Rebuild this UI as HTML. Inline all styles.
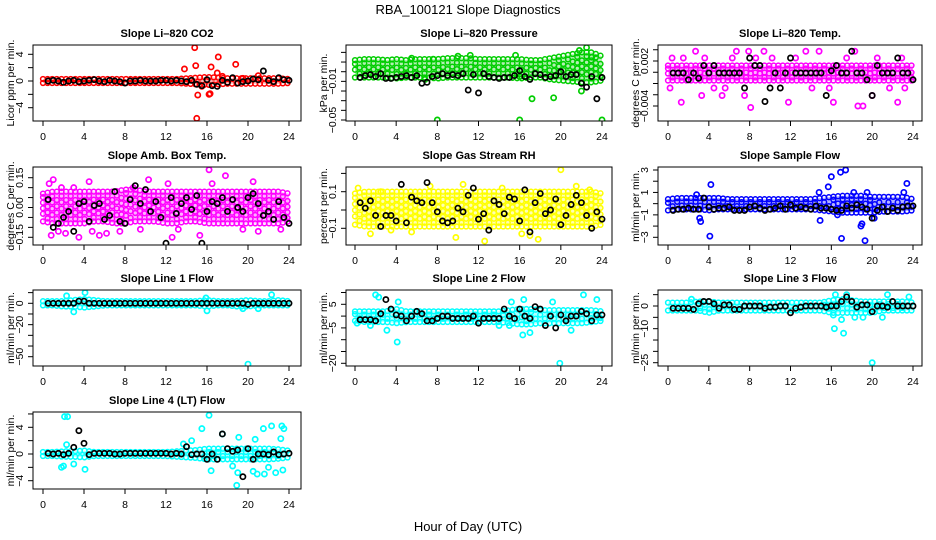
<!DOCTYPE html>
<html><head><meta charset="utf-8"><style>
html,body{margin:0;padding:0;background:#fff;}
svg{display:block;font-family:"Liberation Sans",sans-serif;}
</style></head><body>
<svg id="chart" width="936" height="540" viewBox="0 0 936 540" xmlns="http://www.w3.org/2000/svg">
<text x="468" y="14" text-anchor="middle" font-size="13">RBA_100121  Slope Diagnostics</text>
<text x="468" y="531" text-anchor="middle" font-size="13">Hour of Day (UTC)</text>
</svg>
<script>
// ---- shared data ----
const bandHours = [0,1,2,3,4,5,6,7,8,9,10,11,12,13,14,15,16,17,18,19,20,21,22,23,24];
const meanHours = [0.5,1,1.5,2,2.5,3,3.5,4,4.5,5,5.5,6,6.5,7,7.5,8,8.5,9,9.5,10,10.5,11,11.5,12,12.5,13,13.5,14,14.5,15,15.5,16,16.5,17,17.5,18,18.5,19,19.5,20,20.5,21,21.5,22,22.5,23,23.5,24];
const xTicks = [0,4,8,12,16,20,24];

// CO2
const co2Lo = [-0.3,-0.3,-0.3,-0.3,-0.3,-0.3,-0.3,-0.3,-0.3,-0.3,-0.3,-0.3,-0.3,-0.3,-0.4,-0.5,-0.6,-0.5,-0.4,-0.4,-0.4,-0.4,-0.4,-0.4,-0.3];
const co2Hi = [0.3,0.3,0.3,0.3,0.3,0.3,0.3,0.3,0.3,0.3,0.3,0.3,0.3,0.3,0.4,0.5,0.6,0.5,0.4,0.4,0.4,0.4,0.4,0.4,0.3];
const co2OutX = [13.8,14.8,14.9,15.0,15.1,16.2,16.4,16.3,17.0,17.1,17.5,18.8,21.0,15.5,19.5];
const co2OutY = [1.8,5.0,2.3,-5.6,-2.1,-2.0,2.1,-1.9,1.2,3.6,0.7,2.5,0.8,-0.8,0.4];
const co2Mean = [0,0.1,0,-0.2,0,0.1,-0.1,0,0.1,0.2,0,-0.1,0.1,0,-0.1,-0.3,0,0,0.1,0,0,0,0.1,0.1,0,0.1,0,-0.1,0.1,-0.5,-0.7,0.2,-0.7,-0.8,0.1,-0.2,0.5,-0.3,-0.1,0,0.3,0.2,1.5,0.1,-0.1,0.5,0.2,0.1];
// Pressure
const prLo = [-0.006,-0.006,-0.006,-0.006,-0.007,-0.006,-0.006,-0.006,-0.007,-0.006,-0.006,-0.006,-0.006,-0.006,-0.006,-0.006,-0.007,-0.006,-0.006,-0.008,-0.009,-0.01,-0.011,-0.011,-0.009];
const prHi = [0.012,0.013,0.013,0.012,0.013,0.012,0.013,0.013,0.013,0.014,0.014,0.014,0.013,0.013,0.013,0.013,0.013,0.012,0.012,0.014,0.016,0.018,0.02,0.02,0.016];
const prOutX = [8,16,24,17.2,19.3,6.8,22,22.5,21.8,23,16,5.5,10,11.2,7.6,15.6];
const prOutY = [-0.05,-0.05,-0.05,-0.028,-0.027,-0.008,-0.02,0.025,0.022,0.015,-0.005,0.014,0.016,0.017,0.013,0.017];
const prMean = [-0.006,-0.004,-0.003,-0.005,-0.002,-0.007,-0.007,-0.006,-0.005,-0.004,-0.006,-0.004,-0.012,-0.011,-0.005,-0.004,-0.002,-0.004,-0.003,-0.004,-0.002,-0.019,-0.003,-0.022,-0.002,-0.005,-0.006,-0.007,-0.006,-0.006,-0.004,0.001,-0.005,-0.008,-0.002,-0.003,-0.006,-0.005,-0.004,0.0,-0.005,-0.003,-0.003,-0.012,-0.016,-0.005,-0.028,-0.006];
// Li-820 Temp
const tpLo = [-0.0006,-0.0006,-0.0006,-0.0006,-0.0006,-0.0006,-0.0006,-0.0006,-0.0006,-0.0006,-0.0006,-0.0006,-0.0006,-0.0006,-0.0006,-0.0006,-0.0006,-0.0006,-0.0006,-0.0006,-0.0006,-0.0006,-0.0006,-0.0006,-0.0006];
const tpHi = [0.0014,0.0014,0.0014,0.0014,0.0014,0.0014,0.0014,0.0014,0.0014,0.0014,0.0014,0.0014,0.0014,0.0014,0.0014,0.0014,0.0014,0.0014,0.0014,0.0014,0.0014,0.0014,0.0014,0.0014,0.0014];
const tpOutX = [0.2,0.4,1.3,1.5,2.7,3.3,3.6,4.5,5.3,5.6,6.3,6.7,7.5,7.9,8.1,8.6,9.4,10.2,11.8,12.5,13.5,14.1,14.8,15.8,16.2,17.5,18.3,18.6,19.1,20,20.5,21.7,22.5,22.9,23.2];
const tpOutY = [-0.0016,0.0024,-0.0035,0.0024,0.0033,-0.0026,0.0024,-0.0016,-0.0026,-0.0016,0.0024,0.0033,-0.0026,0.0033,-0.0042,0.0024,0.0033,0.0024,-0.0035,0.0024,0.0033,-0.0016,0.0033,-0.0016,-0.0035,0.0024,0.0033,-0.0040,-0.0040,-0.0026,0.0024,-0.0016,-0.0035,0.0024,-0.0016];
const tpMean = [0.0004,0.0004,0.0004,-0.0005,0.0004,-0.0003,0.0014,0.0004,0.0014,0.0004,0.0004,0.0004,0.0004,0.0004,-0.0016,0.0024,0.0014,0.0014,-0.0034,-0.0016,0.0004,-0.0016,0.0004,0.0024,0.0004,0.0004,0.0004,0.0004,0.0004,0.0004,-0.0026,0.0007,0.0014,0.0004,0.0004,0.0033,0.0004,0.0004,-0.0005,-0.0026,0.0014,0.0004,0.0004,0.0004,0.0024,0.0004,0.0004,-0.0005];
// Amb box temp
const abLo = [-0.07,-0.08,-0.08,-0.08,-0.08,-0.07,-0.07,-0.08,-0.08,-0.07,-0.07,-0.07,-0.08,-0.08,-0.07,-0.07,-0.08,-0.08,-0.08,-0.08,-0.08,-0.08,-0.08,-0.08,-0.07];
const abHi = [0.07,0.08,0.08,0.08,0.08,0.08,0.08,0.08,0.09,0.09,0.08,0.08,0.08,0.08,0.08,0.08,0.08,0.08,0.08,0.08,0.08,0.08,0.08,0.08,0.07];
const abOutX = [0.6,1.0,0.8,1.5,2.2,3.5,3.0,4.5,4.8,5.5,6.2,7.5,8.8,10.3,12.2,12.6,13.2,15.3,16.2,16.5,17.8,19.5,20.5,21,23.2,1.8,9.5];
const abOutY = [0.12,0.14,-0.14,-0.12,-0.13,-0.15,0.1,0.13,-0.12,-0.14,-0.13,-0.12,0.1,0.14,0.12,-0.15,-0.11,-0.14,0.19,0.12,0.16,-0.11,0.13,-0.12,-0.11,0.1,-0.11];
const abMean = [0.04,-0.1,-0.08,-0.05,-0.02,-0.12,0.02,0.03,-0.07,0.01,0.02,-0.06,-0.04,0.08,-0.07,-0.08,0.04,0.11,0.02,0.09,-0.02,0.03,-0.05,-0.18,0.05,-0.03,0.02,0.05,-0.01,0.06,-0.18,-0.02,0.03,0.02,0.05,-0.02,0.04,0,-0.02,0.05,0.07,0.02,-0.04,-0.02,-0.06,0.03,-0.05,-0.08];
// Gas stream RH
const rhLo = [-0.08,-0.09,-0.09,-0.09,-0.09,-0.09,-0.09,-0.09,-0.09,-0.09,-0.09,-0.09,-0.09,-0.09,-0.09,-0.09,-0.09,-0.09,-0.09,-0.09,-0.09,-0.09,-0.09,-0.09,-0.08];
const rhHi = [0.09,0.1,0.1,0.1,0.1,0.1,0.1,0.1,0.1,0.1,0.1,0.1,0.1,0.1,0.1,0.1,0.1,0.1,0.1,0.1,0.1,0.1,0.1,0.1,0.09];
const rhOutX = [20,12.6,17.8,1.5,17,0.3,2.5,5.5,9.8,14.3,16.2,21.5,22.8,10.5,7.3,3.5];
const rhOutY = [0.22,-0.17,-0.16,-0.13,-0.14,0.12,0.1,-0.12,-0.15,0.12,-0.13,0.13,0.11,0.14,0.13,-0.11];
const rhMean = [0.04,0.01,0.05,-0.03,-0.09,-0.03,-0.03,-0.06,0.14,-0.07,0.07,0.05,0.04,0.15,0.04,-0.01,-0.06,-0.07,-0.06,0.01,-0.01,0.08,0.12,-0.05,-0.02,-0.11,0.05,0.03,-0.02,0.07,0.06,-0.06,0.11,-0.12,0.04,0.09,-0.02,0.0,0.06,-0.08,-0.03,0.03,0.08,0.04,-0.03,-0.1,-0.01,-0.05];
// Sample flow
const sfLo = [-0.6,-0.5,-0.5,-0.5,-0.6,-0.5,-0.5,-0.5,-0.5,-0.5,-0.5,-0.5,-0.5,-0.5,-0.5,-0.6,-0.7,-0.8,-0.8,-0.8,-0.8,-0.7,-0.7,-0.7,-0.6];
const sfHi = [0.4,0.5,0.5,0.5,0.5,0.5,0.4,0.4,0.4,0.4,0.4,0.4,0.4,0.4,0.4,0.5,0.6,0.7,0.7,0.7,0.6,0.6,0.6,0.6,0.4];
const sfOutX = [4.2,4.1,3.1,3.2,16,16.9,17.4,17,19.3,18.9,19,14.9,20.2,23.4,15.7,14.8,18.2,19.5,16.6,23.1,2.8];
const sfOutY = [1.7,-2.9,-1.3,-1.6,2.4,2.8,3.0,-3.1,-3.3,-2.0,-1.8,-1.5,-1.3,1.8,1.5,1.0,1.0,1.0,-1.0,1.0,0.8];
const sfMean = [-0.6,-0.5,-0.5,-0.4,-0.5,-0.5,0.5,-0.3,-0.5,-0.4,-0.4,-0.3,-0.6,-0.6,-0.6,-0.3,-0.2,-0.4,-0.6,-0.5,-0.4,-0.2,-0.5,-0.1,-0.4,-0.3,-0.4,-0.5,-0.2,-0.4,-0.4,-0.5,-0.6,-0.6,-0.2,-0.4,-0.1,-0.3,-0.5,-1.3,-0.6,-0.3,-0.7,-0.4,-0.6,-0.3,-0.2,-0.2];
// Line 1 flow
const l1Lo = [-2,-2,-3,-3,-4,-3,-2,-2,-2,-2,-2,-2,-2,-2,-2,-2,-3,-2,-2,-3,-3,-2,-2,-2,-2];
const l1Hi = [2,2,2,3,4,3,2,2,2,2,2,2,2,2,2,2,3,2,2,2,3,2,2,3,2];
const l1OutX = [20,4.1,22.3,3,16,19.5,2.3,15.9,21];
const l1OutY = [-57,10,8,-8,-7,-5,7,5,-5];
const l1Mean = [0,0,0,0,0,0,2,2,0,0,0,0,0,0,0,0,0,0,0,0,0,0,0,0,0,0,0,0,0,0,0,0,0,0,0,0,0,0,0,-1,0,0,0,0,0,0,0,0];
// Line 2 flow
const l2Lo = [-2,-2.5,-2.5,-2.5,-3,-2.5,-2.5,-2.5,-2.5,-2.5,-2.5,-2.5,-2.5,-2.5,-2.5,-3,-3.5,-3.5,-3,-3,-3,-3,-3,-2.5,-2];
const l2Hi = [2,2,2,2,3,2,2,2,2,2,2,2,2,2,2,2.5,3,3,2.5,2.5,2.5,2.5,2.5,2.5,2];
const l2OutX = [2,2.3,4.1,3.1,19.9,22.2,23.5,19.2,16.3,17,4.2,15.2,16.4,21,15,0.2,1.5,14];
const l2OutY = [9,8,-11,-6,-20,9,7,6,-8,-7,6,6,7,-6,-4,-3,-4,-4];
const l2Mean = [-1.5,-1.5,-1.5,-2,1,7,3,0.5,0,-2,0,2,1,-2,-2,-1,0,0,-1,-1,-1,-1,0,-3,-1,-1,-1,-1,3,0,-1,3,0,-1,4,3,-4,0,-5,0.5,-2,0,0,2,1,-2,0.5,0.5];
// Line 3 flow
const l3Lo = [-2,-2,-2,-2,-3,-2,-2,-2,-2,-2,-2,-2,-2,-2,-2,-2,-3,-3,-3,-3,-3,-2,-2,-2,-2];
const l3Hi = [1.5,1.5,1.5,2,2,1.5,1.5,1.5,1.5,1.5,1.5,1.5,1.5,1.5,1.5,1.5,2.5,3,2.5,2,2,2,2,2,1.5];
const l3OutX = [16.3,17.2,20,16.4,17.5,21.5,23.6,17,16.2,21,18.3,2.3,19.1];
const l3OutY = [-10,-12,-25,5,5,5,4,-6,-4,-5,-5,3,-5];
const l3Mean = [-1,-1,-1,-1,-1.5,1,2,2,1,-1,0.5,0.5,-1.5,-1.5,0,0,0,0,-1,-0.5,-0.5,0,0,-3,-1,-0.5,0,0,0,0,-0.5,0,0,2,4,2,-0.5,0.5,0.5,-2.5,0,0,-0.5,2,0,0,0,0];
// Line 4 (LT) flow
const l4Lo = [-0.3,-0.3,-0.4,-0.4,-0.5,-0.3,-0.3,-0.3,-0.3,-0.3,-0.3,-0.3,-0.3,-0.4,-0.5,-0.6,-0.8,-0.8,-0.8,-0.8,-0.8,-0.8,-0.8,-0.7,-0.5];
const l4Hi = [0.3,0.3,0.4,0.4,0.5,0.3,0.3,0.3,0.3,0.3,0.3,0.3,0.3,0.4,0.5,0.6,0.8,0.8,0.8,0.8,0.8,0.8,0.8,0.7,0.5];
const l4OutX = [2.1,2.4,16.2,15.5,17.5,18.9,1.8,4.1,16.4,19,20.5,21.6,22.3,23.3,23.5,21.5,23.2,20.7,19.1,22.7,23.4,13.7,14.5,2.3,3,2,18.5,22,20.9];
const l4OutY = [5.6,5.6,5.8,3.8,3,-4.7,-2,-2.3,-2.5,-2.8,-2.6,-3,4.2,4.2,3.8,3.8,2.3,2.2,2.5,-2.8,-2.4,1.5,2,1.4,-1.5,-1.8,-1.8,-2,-3];
const l4Mean = [0.1,0,0.1,-0.1,0.1,1,3.5,1.6,-0.1,0.1,0.1,0.1,0.1,0,0,0.1,0.1,0.1,0.1,0.1,0.1,0.1,0.1,0.1,0,0.1,0,1.1,-0.1,0,0,-0.8,0,-0.8,3,0.8,0.4,0.6,-3.4,0.8,-0.8,0,0,-0.1,0.3,-0.1,0,0.1];

// ---- layout (pixel geometry, not data) ----
const NS = "http://www.w3.org/2000/svg";
const svg = document.getElementById("chart");
function mk(tag, attrs, parent){ const e=document.createElementNS(NS,tag); for(const k in attrs) e.setAttribute(k,attrs[k]); (parent||svg).appendChild(e); return e; }

const cols = [{l:33,r:301,x0:43,x24:289,lab:10},{l:346,r:612,x0:355,x24:602,lab:323},{l:658,r:922,x0:668,x24:913,lab:635}];
const rows = [{t:45,b:121},{t:167,b:245},{t:290,b:366},{t:412,b:489}];

const panels = [
 {key:"co2",title:"Slope Li\u2013820 CO2",ylab:"Licor ppm per min.",c:0,r:0,col:"#ff0000",v0:4,p0:54.3,v1:-4,p1:107.7,ticks:[4,2,0,-2,-4],tlab:["4","","0","","\u22124"],lo:co2Lo,hi:co2Hi,ox:co2OutX,oy:co2OutY,mean:co2Mean},
 {key:"pressure",title:"Slope Li\u2013820 Pressure",ylab:"kPa per min.",c:1,r:0,col:"#00cd00",v0:0,p0:71.7,v1:-0.05,p1:120,ticks:[0.02,0.01,0,-0.01,-0.02,-0.03,-0.04,-0.05],tlab:["","","","\u22120.01","","","","\u22120.05"],lo:prLo,hi:prHi,ox:prOutX,oy:prOutY,mean:prMean},
 {key:"temp",title:"Slope Li\u2013820 Temp.",ylab:"degrees C per min.",c:2,r:0,col:"#ff00ff",v0:0.002,p0:61,v1:-0.004,p1:106,ticks:[0.0035,0.002,0.0005,-0.001,-0.0025,-0.004],tlab:["","0.002","","","","\u22120.004"],lo:tpLo,hi:tpHi,ox:tpOutX,oy:tpOutY,mean:tpMean},
 {key:"ambtemp",title:"Slope Amb. Box Temp.",ylab:"degrees C per min.",c:0,r:1,col:"#ff00ff",v0:0.15,p0:177.7,v1:-0.15,p1:237.3,ticks:[0.15,0.1,0.05,0,-0.05,-0.1,-0.15],tlab:["0.15","","","0.00","","","\u22120.15"],lo:abLo,hi:abHi,ox:abOutX,oy:abOutY,mean:abMean},
 {key:"rh",title:"Slope Gas Stream RH",ylab:"percent per min.",c:1,r:1,col:"#ffff00",v0:0.1,p0:191.7,v1:-0.1,p1:228.3,ticks:[0.2,0.1,0,-0.1],tlab:["","0.1","","\u22120.1"],lo:rhLo,hi:rhHi,ox:rhOutX,oy:rhOutY,mean:rhMean},
 {key:"sampleflow",title:"Slope Sample Flow",ylab:"ml/min per min.",c:2,r:1,col:"#0000ff",v0:3,p0:170,v1:-3,p1:237.3,ticks:[3,2,1,0,-1,-2,-3],tlab:["3","","1","","\u22121","","\u22123"],lo:sfLo,hi:sfHi,ox:sfOutX,oy:sfOutY,mean:sfMean},
 {key:"line1",title:"Slope Line 1 Flow",ylab:"ml/min per min.",c:0,r:2,col:"#00ffff",v0:0,p0:303.3,v1:-50,p1:356.7,ticks:[10,0,-10,-20,-30,-40,-50],tlab:["","0","","\u221220","","","\u221250"],lo:l1Lo,hi:l1Hi,ox:l1OutX,oy:l1OutY,mean:l1Mean},
 {key:"line2",title:"Slope Line 2 Flow",ylab:"ml/min per min.",c:1,r:2,col:"#00ffff",v0:5,p0:304.3,v1:-20,p1:363.3,ticks:[10,5,0,-5,-10,-15,-20],tlab:["","5","","\u22125","","","\u221220"],lo:l2Lo,hi:l2Hi,ox:l2OutX,oy:l2OutY,mean:l2Mean},
 {key:"line3",title:"Slope Line 3 Flow",ylab:"ml/min per min.",c:2,r:2,col:"#00ffff",v0:0,p0:306,v1:-25,p1:362.7,ticks:[5,0,-5,-10,-15,-20,-25],tlab:["","0","","\u221210","","","\u221225"],lo:l3Lo,hi:l3Hi,ox:l3OutX,oy:l3OutY,mean:l3Mean},
 {key:"line4",title:"Slope Line 4 (LT) Flow",ylab:"ml/min per min.",c:0,r:3,col:"#00ffff",v0:4,p0:427.3,v1:-4,p1:480.7,ticks:[6,4,2,0,-2,-4],tlab:["","4","","0","","\u22124"],lo:l4Lo,hi:l4Hi,ox:l4OutX,oy:l4OutY,mean:l4Mean}
];

panels.forEach(p=>{
  const C=cols[p.c], R=rows[p.r];
  const xs = h => C.x0 + (C.x24-C.x0)*h/24;
  const ys = v => p.p0 + (v-p.v0)*(p.p1-p.p0)/(p.v1-p.v0);
  const g = mk("g",{});
  
  
  const clipId="clip-"+p.key;
  const cp=mk("clipPath",{id:clipId},g); mk("rect",{x:C.l,y:R.t,width:C.r-C.l,height:R.b-R.t},cp);
  const pts = mk("g",{"clip-path":"url(#"+clipId+")"},g);
  
  
  let poly=[];
  bandHours.forEach((h,i)=>poly.push(xs(h).toFixed(1)+","+ys(p.hi[i]).toFixed(1)));
  for(let i=bandHours.length-1;i>=0;i--) poly.push(xs(bandHours[i]).toFixed(1)+","+ys(p.lo[i]).toFixed(1));
  const band=mk("polygon",{points:poly.join(" "),fill:p.col,"fill-opacity":"0.3"},pts);
  
  
  let col=0;
  for(let h=0;h<=24.001;h+=0.45){
    const i=Math.min(23,Math.floor(h)), f=h-i;
    const lo=p.lo[i]+(p.lo[i+1]-p.lo[i])*f, hi=p.hi[i]+(p.hi[i+1]-p.hi[i])*f;
    const yl=ys(lo), yh=ys(hi);
    const n=Math.max(1,Math.round(Math.abs(yl-yh)/6));
    for(let k=0;k<=n;k++){
      const y=yh+(yl-yh)*k/n + ((col%2)?2:-2)*(k>0&&k<n?1:0);
      mk("circle",{cx:xs(h).toFixed(1),cy:y.toFixed(1),r:2.4,fill:"none",stroke:p.col,"stroke-width":1.5},pts);
    }
    col++;
  }
  p.ox.forEach((h,i)=>{
    const c=mk("circle",{cx:xs(h),cy:ys(p.oy[i]),r:2.6,fill:"none",stroke:p.col,"stroke-width":1.7},pts);
    
    
  });
  meanHours.forEach((h,i)=>{
    const c=mk("circle",{cx:xs(h),cy:ys(p.mean[i]),r:2.6,fill:"none",stroke:"#000","stroke-width":1.7},pts);
    
    
  });
  const box=mk("rect",{x:C.l,y:R.t,width:C.r-C.l,height:R.b-R.t,fill:"none",stroke:"#000","stroke-width":1},g);
  
  
  xTicks.forEach(t=>{
    const x=xs(t);
    mk("line",{x1:x,x2:x,y1:R.b,y2:R.b+5,stroke:"#000"},g);
    const tx=mk("text",{x:x,y:R.b+19,"text-anchor":"middle","font-size":"10.5"},g);
    tx.textContent=t;
    
    
  });
  p.ticks.forEach((t,i)=>{
    const y=ys(t);
    mk("line",{x1:C.l-5,x2:C.l,y1:y,y2:y,stroke:"#000"},g);
    if(p.tlab[i]){
      const lx=C.l-10;
      const tx=mk("text",{x:lx,y:y,"text-anchor":"middle","font-size":"10.5",transform:"rotate(-90 "+lx+" "+y+")"},g);
      tx.textContent=p.tlab[i];
      
      
    }
  });
  const cy=(R.t+R.b)/2;
  const yl=mk("text",{x:C.lab,y:cy,"text-anchor":"middle","font-size":"10.5",transform:"rotate(-90 "+(C.lab)+" "+cy+") translate(0 4)"},g);
  yl.textContent=p.ylab;
  
  
  const ti=mk("text",{x:(C.l+C.r)/2,y:R.t-8,"text-anchor":"middle","font-size":"11","font-weight":"bold"},g);
  ti.textContent=p.title;
  
  
});
</script>
</body></html>
